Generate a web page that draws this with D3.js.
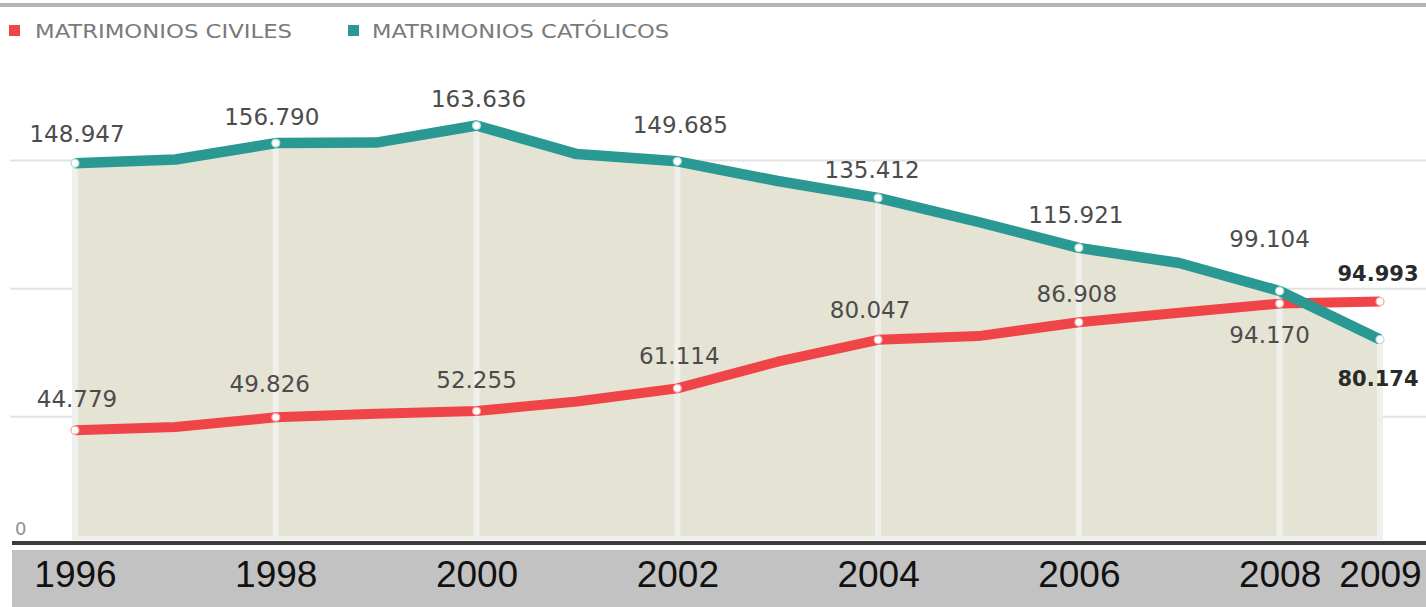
<!DOCTYPE html>
<html>
<head>
<meta charset="utf-8">
<script src="https://cdn.jsdelivr.net/npm/d3@7"></script>
<style>
  html, body { margin: 0; padding: 0; background: #ffffff; }
  svg { display: block; }
</style>
</head>
<body>
<svg id="chart" width="1426" height="607"></svg>
<script>
// ---- data ----
const years = [1996, 1997, 1998, 1999, 2000, 2001, 2002, 2003, 2004, 2005, 2006, 2007, 2008, 2009];
const civiles = [44779, 46000, 49826, 51200, 52255, 56000, 61114, 71500, 80047, 81500, 86908, 90600, 94170, 94993];
const catolicos = [148947, 150400, 156790, 157000, 163636, 152500, 149685, 142000, 135412, 126000, 115921, 110000, 99104, 80174];
const labeledYears = [1996, 1998, 2000, 2002, 2004, 2006, 2008, 2009];
const tickYears = [1996, 1998, 2000, 2002, 2004, 2006, 2008, 2009];
const gridValues = [50000, 100000, 150000];
const seriesNames = ["MATRIMONIOS CIVILES", "MATRIMONIOS CATÓLICOS"];

// ---- layout / style (not data) ----
const COL_RED = "#ef4549";
const COL_TEAL = "#2b9993";
// label offsets (dx, dy) for labeled years, in order of labeledYears
const catOffsets = [[2,-21],[-4,-18],[2,-19],[3,-28],[-6,-20],[-3,-25],[-10,-44],[-2,47]];
const civOffsets = [[2,-23],[-6,-25],[0,-23],[2,-24],[-8,-22],[-2,-20],[-10,39],[-2,-21]];

const svg = d3.select("#chart");
const x = d3.scaleLinear().domain([1996, 2009]).range([75, 1380]);
const y = d3.scaleLinear().domain([0, 150000]).range([545, 160.5]);

const fmt = v => d3.format(",")(v).replace(/,/g, ".");

// top rule
svg.append("rect").attr("x", 0).attr("y", 3).attr("width", 1426).attr("height", 4).attr("fill", "#b4b4b4");

// legend
const legend = svg.append("g");
legend.append("rect").attr("x", 9).attr("y", 25).attr("width", 11).attr("height", 11).attr("fill", COL_RED);
legend.append("text").attr("x", 35).attr("y", 38).text(seriesNames[0])
  .attr("font-family", "'Liberation Sans Narrow','DejaVu Sans Condensed',sans-serif")
  .attr("font-size", 20).attr("fill", "#7a7a7a")
  .attr("textLength", 257).attr("lengthAdjust", "spacingAndGlyphs");
legend.append("rect").attr("x", 348).attr("y", 25).attr("width", 11).attr("height", 11).attr("fill", COL_TEAL);
legend.append("text").attr("x", 372).attr("y", 38).text(seriesNames[1])
  .attr("font-family", "'Liberation Sans Narrow','DejaVu Sans Condensed',sans-serif")
  .attr("font-size", 20).attr("fill", "#7a7a7a")
  .attr("textLength", 297).attr("lengthAdjust", "spacingAndGlyphs");

// horizontal grid lines
svg.append("g").selectAll("line").data(gridValues).join("line")
  .attr("x1", 10).attr("x2", 1426)
  .attr("y1", d => y(d)).attr("y2", d => y(d))
  .attr("stroke", "#e4e4e4").attr("stroke-width", 2);

// "0" label
svg.append("text").attr("x", 15).attr("y", 535).text("0")
  .attr("font-family", "'DejaVu Sans',sans-serif").attr("font-size", 18).attr("fill", "#909090");

const catData = years.map((yr, i) => ({ yr, v: catolicos[i] }));
const civData = years.map((yr, i) => ({ yr, v: civiles[i] }));

// area under catholic line
svg.append("path").datum(catData)
  .attr("d", d3.area().x(d => x(d.yr)).y0(y(0) - 6).y1(d => y(d.v)))
  .attr("fill", "#e5e4d4");

// bottom light strip inside area
svg.append("line").attr("x1", x(1996)).attr("x2", x(2009))
  .attr("y1", y(0) - 7).attr("y2", y(0) - 7)
  .attr("stroke", "#eeeeea").attr("stroke-width", 4);

// vertical white grid lines at labeled years
svg.append("g").selectAll("line").data(labeledYears).join("line")
  .attr("x1", d => x(d)).attr("x2", d => x(d))
  .attr("y1", d => y(catolicos[years.indexOf(d)]))
  .attr("y2", y(0) - 5)
  .attr("stroke", "#efefeb").attr("stroke-width", 6);

// axis line and band
svg.append("rect").attr("x", 12).attr("y", 541).attr("width", 1414).attr("height", 4).attr("fill", "#3c3c3c");
svg.append("rect").attr("x", 12).attr("y", 550).attr("width", 1414).attr("height", 57).attr("fill", "#c2c2c2");

// x axis labels via d3 axis
const xAxis = d3.axisBottom(x).tickValues(tickYears).tickFormat(d3.format("d")).tickSize(0).tickPadding(0);
const axG = svg.append("g").attr("transform", "translate(0,558)").call(xAxis);
axG.select(".domain").remove();
axG.selectAll("text")
  .attr("font-family", "'Liberation Sans',Arial,sans-serif")
  .attr("font-size", 37).attr("fill", "#111").attr("dy", "0.78em");

// lines
const line = d3.line().x(d => x(d.yr)).y(d => y(d.v));
svg.append("path").datum(civData).attr("d", line)
  .attr("fill", "none").attr("stroke", COL_RED).attr("stroke-width", 10).attr("stroke-linejoin", "round");
svg.append("path").datum(catData).attr("d", line)
  .attr("fill", "none").attr("stroke", COL_TEAL).attr("stroke-width", 10.5).attr("stroke-linejoin", "round");

// markers at labeled years
function markers(data, color) {
  svg.append("g").selectAll("circle").data(data.filter(d => labeledYears.includes(d.yr))).join("circle")
    .attr("cx", d => x(d.yr)).attr("cy", d => y(d.v)).attr("r", 4)
    .attr("fill", "#ffffff").attr("stroke", color).attr("stroke-width", 1.2);
}
markers(civData, "#f7a0a0");
markers(catData, "#a8dcdc");

// value labels
function labels(data, offsets) {
  const sel = data.filter(d => labeledYears.includes(d.yr));
  svg.append("g").selectAll("text").data(sel).join("text")
    .attr("x", (d, i) => x(d.yr) + offsets[i][0])
    .attr("y", (d, i) => y(d.v) + offsets[i][1])
    .attr("text-anchor", "middle")
    .attr("font-family", "'DejaVu Sans',Verdana,sans-serif")
    .attr("font-size", d => d.yr === 2009 ? 21 : 23)
    .attr("font-weight", d => d.yr === 2009 ? "bold" : "normal")
    .attr("fill", d => d.yr === 2009 ? "#2a2a2a" : "#4c4c4c")
    .text(d => fmt(d.v));
}
labels(catData, catOffsets);
labels(civData, civOffsets);
</script>
</body>
</html>
